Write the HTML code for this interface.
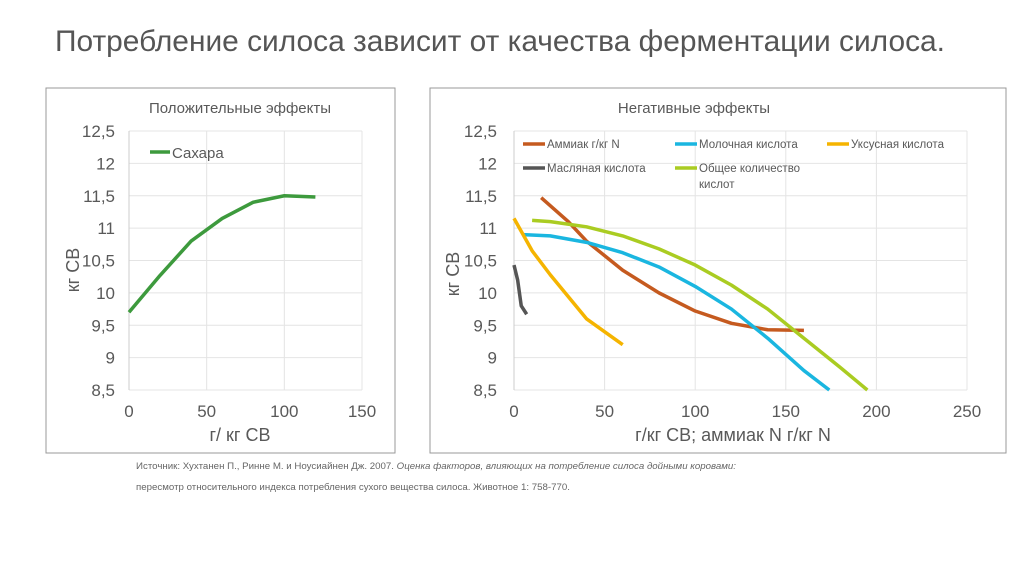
<!DOCTYPE html>
<html><head><meta charset="utf-8"><style>
body{margin:0;background:#fff;width:1024px;height:574px;overflow:hidden;font-family:"Liberation Sans",sans-serif}
</style></head><body>
<svg id="s" width="1024" height="574" xmlns="http://www.w3.org/2000/svg" font-family="Liberation Sans, sans-serif">
<text x="55" y="51" font-size="30" fill="#555" textLength="890" lengthAdjust="spacingAndGlyphs">Потребление силоса зависит от качества ферментации силоса.</text>
<rect x="46" y="88" width="349" height="365" fill="#fff" stroke="#999" stroke-width="1"/>
<rect x="430" y="88" width="576" height="365" fill="#fff" stroke="#999" stroke-width="1"/>
<text x="240" y="113" font-size="15" fill="#595959" text-anchor="middle">Положительные эффекты</text>
<text x="694" y="113" font-size="15" fill="#595959" text-anchor="middle">Негативные эффекты</text>
<g id="L"></g><g id="R"></g>
<text transform="translate(79,270) rotate(-90)" font-size="18" fill="#595959" text-anchor="middle">кг СВ</text>
<text transform="translate(459,274) rotate(-90)" font-size="18" fill="#595959" text-anchor="middle">кг СВ</text>
<text x="240" y="441" font-size="18" fill="#595959" text-anchor="middle">г/ кг СВ</text>
<text x="733" y="441" font-size="18" fill="#595959" text-anchor="middle">г/кг СВ; аммиак N г/кг N</text>
<text x="136" y="469" font-size="9" fill="#666" textLength="600" lengthAdjust="spacingAndGlyphs">Источник: Хухтанен П., Ринне М. и Ноусиайнен Дж. 2007. <tspan font-style="italic">Оценка факторов, влияющих на потребление силоса дойными коровами:</tspan></text>
<text x="136" y="490" font-size="9" fill="#666" textLength="434" lengthAdjust="spacingAndGlyphs">пересмотр относительного индекса потребления сухого вещества силоса. Животное 1: 758-770.</text>
</svg>
<script>
const yTicks=[8.5,9,9.5,10,10.5,11,11.5,12,12.5];
const yTickLabels=["8,5","9","9,5","10","10,5","11","11,5","12","12,5"];
const leftXTicks=[0,50,100,150];
const rightXTicks=[0,50,100,150,200,250];
const sugarX=[0,20,40,60,80,100,120];
const sugarY=[9.7,10.27,10.8,11.15,11.4,11.5,11.48];
const ammoniaX=[15,30,40,60,80,100,120,140,160];
const ammoniaY=[11.47,11.1,10.8,10.35,10.0,9.72,9.53,9.43,9.42];
const lacticX=[5,20,40,60,80,100,120,140,160,174];
const lacticY=[10.9,10.88,10.78,10.62,10.4,10.1,9.75,9.3,8.8,8.5];
const aceticX=[0,10,20,40,60];
const aceticY=[11.15,10.65,10.28,9.6,9.2];
const butyricX=[0,2,4,7];
const butyricY=[10.43,10.2,9.8,9.67];
const totalX=[10,20,40,60,80,100,120,140,160,180,195];
const totalY=[11.12,11.1,11.02,10.88,10.68,10.43,10.12,9.75,9.3,8.85,8.5];
const NS="http://www.w3.org/2000/svg";
function mk(p,t,a){const e=document.createElementNS(NS,t);for(const k in a)e.setAttribute(k,a[k]);p.appendChild(e);return e;}
const yS=v=>390-(v-8.5)*64.75;
const lx=v=>129+v*(362-129)/150;
const rx=v=>514+v*(967-514)/250;
function axes(g,xs,xt,x0,x1,lab){
 yTicks.forEach((t,i)=>{const l=mk(g,'line',{x1:x0,x2:x1,y1:yS(t),y2:yS(t),stroke:'#e4e4e4'});
 
 const tx=mk(g,'text',{x:lab,y:yS(t)+6,'font-size':17,fill:'#595959','text-anchor':'end'});tx.textContent=yTickLabels[i];
 });
 xt.forEach(t=>{const l=mk(g,'line',{x1:xs(t),x2:xs(t),y1:yS(12.5),y2:yS(8.5),stroke:t===0?'#ccc':'#e4e4e4'});
 
 const tx=mk(g,'text',{x:xs(t),y:417,'font-size':17,fill:'#595959','text-anchor':'middle'});tx.textContent=t;
 });
}
function line(g,xs,X,Y,c,w,name){const p=mk(g,'polyline',{points:X.map((x,i)=>xs(x)+','+yS(Y[i])).join(' '),fill:'none',stroke:c,'stroke-width':w,'stroke-linejoin':'round'});
}
function leg(g,x,y,c,t,name){const l=mk(g,'line',{x1:x,x2:x+22,y1:y,y2:y,stroke:c,'stroke-width':3.5});
const tx=mk(g,'text',{x:x+24,y:y+4,'font-size':11.5,fill:'#595959'});tx.textContent=t;

return tx;}
const L=document.getElementById('L'),R=document.getElementById('R');
axes(L,lx,leftXTicks,129,362,115);
axes(R,rx,rightXTicks,514,967,497);
line(L,lx,sugarX,sugarY,'#3d9a3d',3.5,'sugars-line');
const sl=mk(L,'line',{x1:150,x2:170,y1:152,y2:152,stroke:'#3d9a3d','stroke-width':3.5});

const st=mk(L,'text',{x:172,y:158,'font-size':15,fill:'#595959'});st.textContent='Сахара';

line(R,rx,ammoniaX,ammoniaY,'#c55a1f',3.5,'ammonia-line');
line(R,rx,lacticX,lacticY,'#1ab6e0',3.5,'lactic-acid-line');
line(R,rx,aceticX,aceticY,'#f5b400',3.5,'acetic-acid-line');
line(R,rx,butyricX,butyricY,'#555',3.5,'butyric-acid-line');
line(R,rx,totalX,totalY,'#aacc22',3.5,'total-acids-line');
leg(R,523,144,'#c55a1f','Аммиак г/кг N','legend-ammonia');
leg(R,675,144,'#1ab6e0','Молочная кислота','legend-lactic');
leg(R,827,144,'#f5b400','Уксусная кислота','legend-acetic');
leg(R,523,168,'#555','Масляная кислота','legend-butyric');
leg(R,675,168,'#aacc22','Общее количество','legend-total');
const k=mk(R,'text',{x:699,y:188,'font-size':11.5,fill:'#595959'});k.textContent='кислот';

</script>
</body></html>
